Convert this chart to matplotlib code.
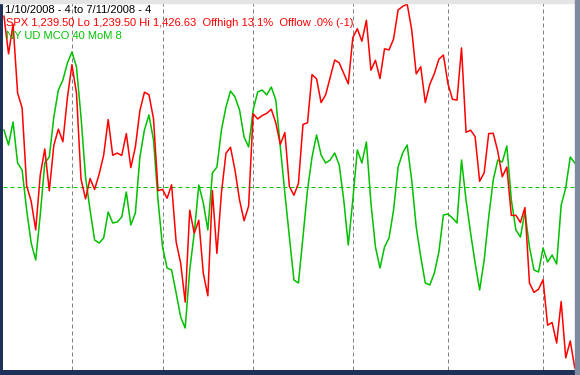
import matplotlib
matplotlib.use('agg')
import matplotlib.pyplot as plt
import numpy as np
import pandas as pd
from matplotlib.patches import Rectangle

# trading days 1/10/2008 .. 7/11/2008
holidays = ['2008-01-21', '2008-02-18', '2008-03-21', '2008-05-26', '2008-07-04']
dates = pd.bdate_range('2008-01-10', '2008-07-11')
dates = dates[~dates.isin(pd.to_datetime(holidays))]

spx = [1420.33, 1401.02, 1416.25, 1380.95, 1373.20, 1333.25, 1325.19, 1310.50, 1338.60, 1352.07,
       1330.61, 1353.97, 1362.30, 1355.81, 1378.55,
       1395.42, 1380.82, 1336.64, 1326.45, 1336.91, 1331.29, 1339.13, 1348.86, 1367.21, 1348.86,
       1349.99, 1348.78, 1360.03, 1342.53, 1353.11, 1371.80, 1381.29, 1380.02, 1367.68, 1330.63,
       1331.34, 1326.75, 1333.70, 1304.34, 1293.37, 1273.37, 1320.65, 1308.77, 1315.48, 1288.14,
       1276.60, 1330.74, 1298.42, 1329.51, 1349.88, 1352.99, 1341.13, 1325.76, 1315.22, 1322.70,
       1370.18, 1367.53, 1369.31, 1370.40, 1372.54, 1365.54, 1354.49, 1360.55, 1332.83, 1328.32,
       1334.43, 1364.71, 1365.56, 1390.33, 1388.17, 1375.94, 1379.93, 1388.82, 1397.84, 1396.37,
       1390.94, 1385.59,
       1409.34, 1413.90, 1407.49, 1418.26, 1392.57, 1397.68, 1388.28, 1403.58, 1403.04, 1408.66,
       1423.57, 1425.35, 1426.63, 1413.40, 1390.71, 1394.35, 1375.93, 1385.35, 1390.84, 1398.26,
       1400.38,
       1385.67, 1377.65, 1377.20, 1404.05, 1360.68, 1361.76, 1358.44, 1335.49, 1339.87, 1360.03,
       1360.14, 1350.93, 1337.81, 1342.83, 1317.93, 1318.00, 1314.29, 1321.97, 1283.15, 1278.38,
       1280.00,
       1284.91, 1261.52, 1262.90, 1252.31, 1273.70, 1244.69, 1253.39, 1239.49]

# NY UD MCO 40 MoM 8 (zero = dashed green line)
mco = [57, 42, 65, 24, 17, -23, -56, -73, -28, 24,
       30, 70, 97, 107, 124, 135, 120, 70, 10, -23,
       -53, -56, -51, -25, -36, -35, -30, -5, -38, -26,
       30, 57, 72, 47, -13, -60, -81, -83, -106, -130,
       -141, -83, -46, 2, -16, -43, 14, 20, 57, 80,
       96, 90, 77, 50, 40, 77, 95, 97, 92, 100,
       87, 40, -6, -50, -93, -96, -50, -3, 30, 52,
       32, 24, 27, 34, 22, -13, -58, -13, 37, 24,
       45, -16, -60, -81, -60, -51, -23, 20, 34, 42,
       7, -40, -70, -96, -98, -86, -65, -28, -27, -31,
       -36, 27, -13, -46, -76, -103, -73, -30, 7, 27,
       25, 41, -13, -43, -50, -25, -60, -83, -85, -61,
       -75, -68, -77, -18, -1, 30, 24]

hdr = '1/10/2008 - 4 to 7/11/2008 - 4'
spx_lbl = 'SPX 1,239.50 Lo 1,239.50 Hi 1,426.63  Offhigh 13.1%  Offlow .0% (-1)'
mco_lbl = 'NY UD MCO 40 MoM 8'

W, H = 580, 375
fig = plt.figure(figsize=(W / 100, H / 100), dpi=100)
fig.set_facecolor('#1e2f58')

# window chrome
fig.patches.append(Rectangle((0, 1 - 3 / H), 1, 3 / H, transform=fig.transFigure, color='#e4e4e4', zorder=0))
fig.patches.append(Rectangle((575 / W, 0), 5 / W, 1, transform=fig.transFigure, color='#7d8aa0', zorder=0))

ax = fig.add_axes([3 / W, 5 / H, 572 / W, 367 / H])
ax.set_facecolor('white')
x = np.arange(len(dates))

ax.set_xlim(-0.22, 126.05)
ax.set_ylim(-183, 184)

months = pd.Series(dates.month)
firsts = x[(months != months.shift()).values][1:]
for xi in firsts:
  ax.axvline(xi, color='#808080', lw=0.72, ls=(0, (4, 3)), zorder=1)
ax.axhline(0, color='#00c000', lw=0.72, ls=(0, (4, 3)), zorder=1)

ax.plot(x, mco, color='#00c000', lw=1.1, zorder=2)

ax2 = ax.twinx()
ax2.set_ylim(1238.47, 1427.14)
ax2.plot(x, spx, color='#ff0000', lw=1.1, zorder=3)

for a in (ax, ax2):
  a.set_xticks([])
  a.set_yticks([])
  for s in a.spines.values():
    s.set_visible(False)

font = dict(family='Liberation Sans', size=8, va='baseline', ha='left')
fig.text(5 / W, 1 - 13 / H, hdr, color='black', **font)
fig.text(6 / W, 1 - 26 / H, spx_lbl, color='#ff0000', **font)
fig.text(6 / W, 1 - 39 / H, mco_lbl, color='#00c000', **font)

plt.savefig('out.png', dpi=100)
plt.close()
